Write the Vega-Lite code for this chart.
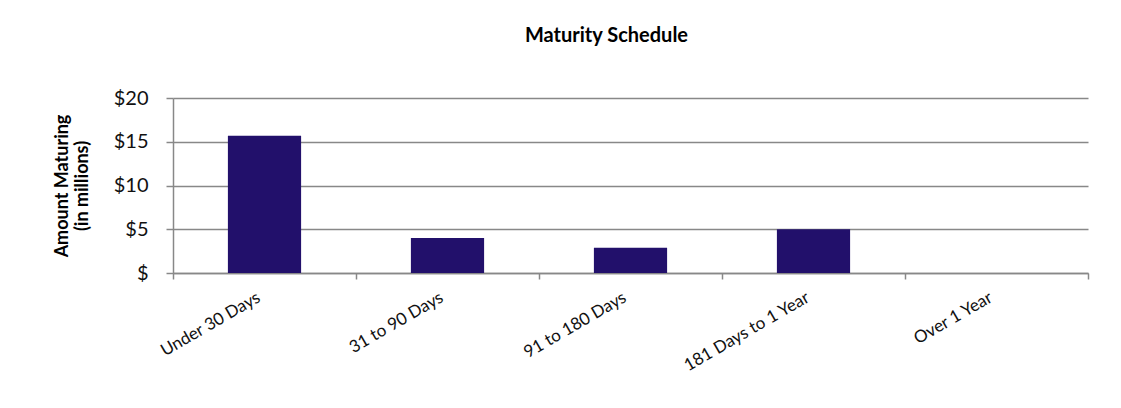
{
  "$schema": "https://vega.github.io/schema/vega-lite/v6.json",
  "width": 915,
  "height": 175,
  "autosize": {"type": "none"},
  "padding": {"left": 173, "top": 98, "right": 33, "bottom": 135},
  "background": "white",
  "title": {
    "text": "Maturity Schedule",
    "font": "Lato",
    "fontSize": 20,
    "fontWeight": "bold",
    "color": "#000",
    "anchor": "middle",
    "dx": -24,
    "offset": 42
  },
  "data": {
    "values": [
      {"term": "Under 30 Days", "amount": 15.7},
      {"term": "31 to 90 Days", "amount": 4.0},
      {"term": "91 to 180 Days", "amount": 2.9},
      {"term": "181 Days to 1 Year", "amount": 5.0},
      {"term": "Over 1 Year", "amount": 0}
    ]
  },
  "mark": {"type": "bar", "color": "#22106B", "width": {"band": 0.4}},
  "encoding": {
    "x": {
      "field": "term",
      "type": "nominal",
      "sort": null,
      "scale": {"paddingInner": 0, "paddingOuter": 0},
      "axis": {
        "title": null,
        "labelAngle": -30,
        "labelAlign": "right",
        "labelBaseline": "middle",
        "labelFont": "Lato",
        "labelFontSize": 17,
        "labelColor": "#111",
        "labelPadding": 17,
        "labelOffset": -6,
        "tickBand": "extent",
        "tickSize": 6,
        "tickColor": "#888",
        "tickWidth": 1.5,
        "domainColor": "#888",
        "domainWidth": 1.5
      }
    },
    "y": {
      "field": "amount",
      "type": "quantitative",
      "scale": {"domain": [0, 20]},
      "axis": {
        "title": ["Amount Maturing", "(in millions)"],
        "titleFont": "Lato",
        "titleFontSize": 18,
        "titleFontWeight": "bold",
        "titleColor": "#000",
        "titleLineHeight": 20,
        "titlePadding": 22,
        "values": [0, 5, 10, 15, 20],
        "labelExpr": "datum.value == 0 ? '$' : '$' + datum.value",
        "labelFont": "Lato",
        "labelFontSize": 20,
        "labelColor": "#111",
        "labelPadding": 18,
        "grid": true,
        "gridColor": "#888",
        "gridWidth": 1.5,
        "tickSize": 7,
        "tickColor": "#888",
        "tickWidth": 1.5,
        "domainColor": "#888",
        "domainWidth": 1.5
      }
    }
  },
  "config": {"view": {"stroke": null}}
}
